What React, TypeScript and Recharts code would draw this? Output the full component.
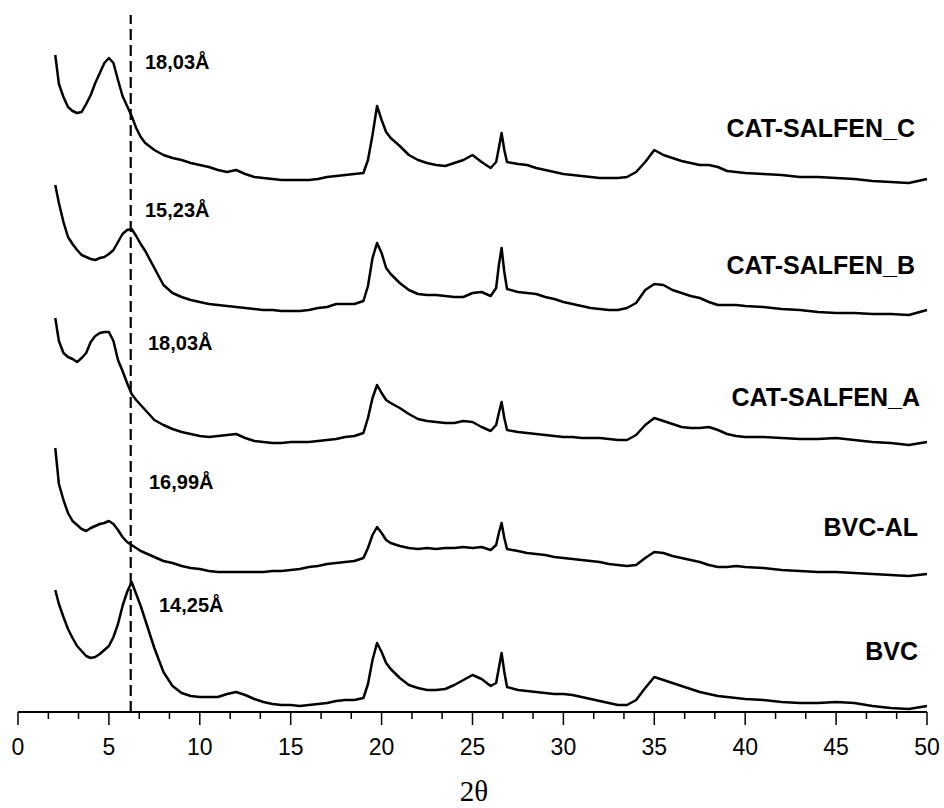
import { LineChart, Line, XAxis, YAxis, ReferenceLine } from "recharts";

// 2θ positions (degrees)
const angles = [
  2.05, 2.25, 2.5, 2.75, 3.0, 3.25, 3.5, 3.75, 4.0, 4.25,
  4.5, 4.75, 5.0, 5.25, 5.5, 5.75, 6.0, 6.25, 6.5, 6.75,
  7.0, 7.5, 8.0, 8.5, 9.0, 9.5, 10, 10.5, 11, 11.5,
  12, 12.5, 13, 13.5, 14, 14.5, 15, 15.5, 16, 16.5,
  17, 17.5, 18, 18.5, 19, 19.25, 19.5, 19.75, 20, 20.25,
  20.5, 21, 21.5, 22, 22.5, 23, 23.5, 24, 24.5, 25,
  25.5, 26, 26.3, 26.45, 26.6, 26.75, 26.9, 27.5, 28, 28.5,
  29, 29.5, 30, 30.5, 31, 31.5, 32, 32.5, 33, 33.5,
  34, 34.5, 35, 35.5, 36, 36.5, 37, 37.5, 38, 38.5,
  39, 39.5, 40, 41, 42, 43, 44, 45, 46, 47,
  48, 49, 50,
];

// intensities (a.u., curves stacked with offsets)
const salfenC = [
  657, 628, 615, 605, 601, 599, 600, 608, 617, 629,
  639, 649, 654, 649, 632, 616, 606, 596, 584, 575,
  569, 562, 557, 554, 552, 549, 547, 545, 542, 540,
  542, 538, 535, 534, 533, 532, 532, 532, 532, 533,
  535, 536, 537, 538, 539, 552, 577, 606, 592, 580,
  574, 566, 557, 552, 549, 547, 546, 549, 552, 557,
  550, 544, 550, 564, 579, 562, 550, 548, 547, 544,
  542, 540, 538, 537, 536, 535, 534, 534, 534, 535,
  540, 550, 562, 557, 554, 551, 549, 547, 547, 545,
  541, 540, 539, 538, 537, 535, 535, 534, 533, 531,
  530, 529, 533,
];

const salfenB = [
  527, 509, 490, 475, 468, 462, 457, 455, 453, 452,
  454, 455, 458, 462, 470, 478, 482, 483, 476, 468,
  461, 444, 427, 419, 415, 412, 410, 408, 407, 406,
  405, 404, 403, 402, 402, 401, 401, 401, 402, 404,
  405, 408, 408, 408, 411, 426, 454, 469, 459, 444,
  438, 429, 422, 418, 417, 417, 416, 415, 415, 419,
  420, 416, 424, 447, 464, 440, 423, 420, 419, 418,
  415, 413, 410, 408, 406, 404, 403, 402, 402, 404,
  409, 422, 428, 427, 422, 419, 416, 414, 410, 407,
  407, 407, 406, 405, 403, 402, 400, 399, 399, 398,
  398, 397, 402,
];

const salfenA = [
  394, 371, 359, 355, 353, 350, 354, 359, 370, 376,
  379, 380, 380, 371, 352, 341, 329, 318, 312, 307,
  302, 292, 287, 283, 280, 278, 276, 275, 276, 277,
  278, 274, 271, 270, 269, 269, 270, 270, 270, 271,
  272, 273, 275, 276, 279, 294, 314, 327, 319, 312,
  309, 304, 298, 293, 291, 290, 289, 289, 291, 290,
  285, 281, 287, 299, 310, 294, 282, 280, 279, 278,
  277, 276, 275, 275, 274, 274, 274, 273, 272, 272,
  277, 287, 294, 291, 288, 285, 284, 284, 285, 282,
  278, 276, 275, 275, 274, 273, 273, 274, 272, 270,
  269, 267, 270,
];

const bvcAl = [
  264, 228, 212, 199, 191, 187, 183, 181, 184, 186,
  188, 189, 191, 188, 182, 175, 170, 167, 164, 161,
  159, 155, 151, 149, 146, 144, 143, 141, 140, 140,
  140, 140, 140, 140, 141, 141, 142, 143, 145, 146,
  148, 149, 150, 151, 154, 164, 177, 185, 179, 172,
  169, 166, 164, 163, 164, 163, 164, 164, 165, 164,
  165, 162, 167, 179, 189, 174, 163, 161, 159, 158,
  157, 155, 154, 153, 152, 151, 150, 148, 147, 146,
  147, 154, 160, 159, 156, 154, 152, 150, 147, 145,
  145, 146, 145, 144, 142, 141, 140, 140, 139, 138,
  137, 136, 138,
];

const bvc = [
  122, 108, 95, 83, 74, 66, 61, 56, 54, 55,
  58, 62, 66, 75, 88, 106, 120, 130, 118, 106,
  92, 64, 40, 26, 19, 16, 15, 15, 15, 18,
  20, 17, 13, 10, 8, 7, 7, 6, 7, 8,
  9, 11, 12, 12, 14, 28, 52, 69, 60, 49,
  43, 34, 27, 24, 22, 22, 23, 27, 32, 37,
  33, 26, 29, 44, 59, 40, 25, 22, 21, 20,
  19, 18, 18, 17, 15, 13, 11, 9, 7, 7,
  12, 24, 35, 32, 29, 26, 23, 20, 18, 16,
  15, 14, 13, 12, 10, 9, 9, 10, 9, 6,
  4, 3, 6,
];

const majorTicks = [0, 5, 10, 15, 20, 25, 30, 35, 40, 45, 50];
const minorTicks = [
  1.67, 3.33, 6.67, 8.33, 11.67, 13.33, 16.67, 18.33, 21.67, 23.33,
  26.67, 28.33, 31.67, 33.33, 36.67, 38.33, 41.67, 43.33, 46.67, 48.33,
];

const seriesKeys = ["c", "b", "a", "al", "bvc"];
const seriesNames = ["CAT-SALFEN_C", "CAT-SALFEN_B", "CAT-SALFEN_A", "BVC-AL", "BVC"];
const spacings = ["18,03Å", "15,23Å", "18,03Å", "16,99Å", "14,25Å"];
const markerAngle = 6.2;

const data = angles.map((angle, i) => ({
  angle,
  c: salfenC[i],
  b: salfenB[i],
  a: salfenA[i],
  al: bvcAl[i],
  bvc: bvc[i],
}));

const allTicks = [...majorTicks, ...minorTicks].sort((p, q) => p - q);

// label placement (pixels)
const nameX = [915, 915, 920, 918, 918];
const nameY = [137, 274, 406, 536, 660];
const spacingX = [145, 145, 148, 149, 159];
const spacingY = [69, 217, 350, 489, 612];

function AxisTick(props: any) {
  const { x, y, payload } = props;
  const major = majorTicks.includes(payload.value);
  return (
    <g>
      <line x1={x} x2={x} y1={y} y2={y + (major ? 13 : 7)} stroke="#000" strokeWidth={1.5} />
      {major && (
        <text
          x={x}
          y={y + 43}
          textAnchor="middle"
          fontSize={23}
          fontFamily="'Liberation Sans', Arial, sans-serif"
          fill="#000"
        >
          {payload.value}
        </text>
      )}
    </g>
  );
}

export default function App() {
  return (
    <div style={{ position: "absolute", left: 0, top: 0, width: 944, height: 808, background: "#fff" }}>
      <LineChart width={944} height={808} data={data} margin={{ top: 0, right: 17, bottom: 66, left: 18 }}>
        <XAxis
          dataKey="angle"
          type="number"
          domain={[0, 50]}
          ticks={allTicks}
          interval={0}
          tickLine={false}
          tickSize={0}
          tickMargin={0}
          height={30}
          axisLine={{ stroke: "#000", strokeWidth: 2 }}
          tick={<AxisTick />}
        />
        <YAxis hide domain={[0, 712]} type="number" />
        <ReferenceLine
          segment={[
            { x: markerAngle, y: 0 },
            { x: markerAngle, y: 697 },
          ]}
          stroke="#000"
          strokeWidth={2.2}
          strokeDasharray="11 5"
        />
        {seriesKeys.map((k) => (
          <Line
            key={k}
            type="linear"
            dataKey={k}
            stroke="#000"
            strokeWidth={2.5}
            strokeLinejoin="round"
            dot={false}
            isAnimationActive={false}
          />
        ))}
      </LineChart>
      <svg
        width={944}
        height={808}
        style={{ position: "absolute", left: 0, top: 0, pointerEvents: "none" }}
      >
        {seriesNames.map((n, i) => (
          <text
            key={n}
            x={nameX[i]}
            y={nameY[i]}
            textAnchor="end"
            fontSize={25}
            fontWeight="bold"
            fontFamily="'Liberation Sans', Arial, sans-serif"
            fill="#000"
          >
            {n}
          </text>
        ))}
        {spacings.map((s, i) => (
          <text
            key={i}
            x={spacingX[i]}
            y={spacingY[i]}
            fontSize={20}
            fontWeight="bold"
            fontFamily="'Liberation Sans', Arial, sans-serif"
            fill="#000"
          >
            {s}
          </text>
        ))}
        <text
          x={474}
          y={801}
          textAnchor="middle"
          fontSize={29}
          fontFamily="'Liberation Serif', 'Times New Roman', serif"
          fill="#000"
        >
          2θ
        </text>
      </svg>
    </div>
  );
}
